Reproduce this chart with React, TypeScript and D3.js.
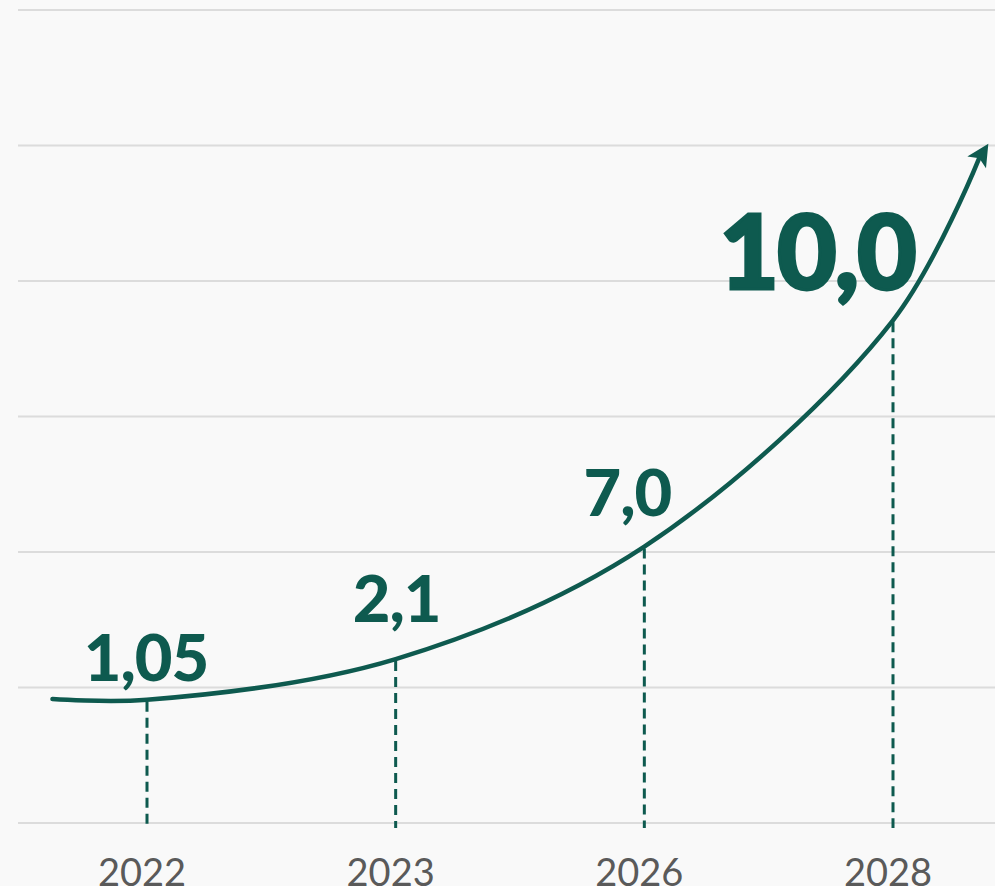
import React from 'react';
import * as d3 from 'd3';

// categories and values shown on the chart
const years = ['2022', '2023', '2026', '2028'];
const values = [1.05, 2.1, 7.0, 10.0];
// height of the (illustrative) growth curve above each year, in gridline steps
const curveLevels = [0.91, 1.21, 2.04, 3.71];
// curve start / end (index position along x, level)
const curveStart = [-0.38, 0.915];
const curveEnd = [3.345, 4.9];
const gridTicks = [0, 1, 2, 3, 4, 5, 6];

const fmt = (v: number) => (v === 1.05 ? '1,05' : v.toFixed(1).replace('.', ','));

const App = () => {
  const width = 995;
  const height = 886;
  const green = '#0e5a4f';

  const xIndex = d3.scaleLinear().domain([0, years.length - 1]).range([147, 893]);
  const xScale = d3.scalePoint<string>().domain(years).range([147, 893]);
  const yScale = d3.scaleLinear().domain([0, 6]).range([823, 10]);

  const pts: [number, number][] = [
    [xIndex(curveStart[0]), yScale(curveStart[1])],
    ...years.map((y, i) => [xScale(y)!, yScale(curveLevels[i])] as [number, number]),
    [xIndex(curveEnd[0]), yScale(curveEnd[1])],
  ];
  const line = d3.line().curve(d3.curveCatmullRom.alpha(0.5))(pts);

  // arrowhead direction from the last segment
  const [ex, ey] = pts[pts.length - 1];
  const [px, py] = pts[pts.length - 2];
  const angle = (Math.atan2(ey - py, ex - px) * 180) / Math.PI + 4;

  const labelDx = [-1, 1, -17, -76];
  const labelDy = [-19, -37, -31, -31];

  return (
    <div style={{ position: 'absolute', left: 0, top: 0, width, height, background: '#f9f9f9' }}>
      <svg width={width} height={height} style={{ display: 'block' }}>
        {gridTicks.map(t => (
          <line key={t} x1={18} x2={width} y1={yScale(t)} y2={yScale(t)} stroke="#dcdcdc" strokeWidth={2} />
        ))}
        {years.map((y, i) => (
          <line key={y} x1={xScale(y)} x2={xScale(y)} y1={yScale(curveLevels[i]) + 2} y2={828}
            stroke={green} strokeWidth={3} strokeDasharray="10,6" />
        ))}
        <path d={line || ''} fill="none" stroke={green} strokeWidth={4.5} strokeLinecap="round" />
        <path d="M-4,-11 L18,0 L-4,11 L1,0 Z" fill={green} transform={`translate(${ex},${ey}) rotate(${angle})`} />
        {years.map((y, i) => (
          <text key={'v' + y} x={xScale(y)! + labelDx[i]} y={yScale(curveLevels[i]) + labelDy[i]}
            textAnchor="middle" fill={green} fontFamily="Lato, 'Noto Sans', sans-serif" fontWeight={900}
            fontSize={i === years.length - 1 ? 103 : 65} letterSpacing={i === years.length - 1 ? -2 : -1}
            stroke={i === years.length - 1 ? green : 'none'} strokeWidth={3}>
            {fmt(values[i])}
          </text>
        ))}
        {years.map(y => (
          <text key={'t' + y} x={xScale(y)! - 5} y={886} textAnchor="middle" fill="#5a5a5a"
            fontFamily="Lato, sans-serif" fontSize={38}>
            {y}
          </text>
        ))}
      </svg>
    </div>
  );
};

export default App;
